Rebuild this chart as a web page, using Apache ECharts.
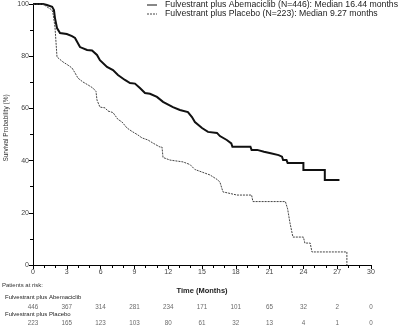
<!DOCTYPE html>
<html><head><meta charset="utf-8">
<script src="https://cdn.jsdelivr.net/npm/echarts@6/dist/echarts.min.js"></script>
<style>html,body{margin:0;padding:0;background:#fff}#c{width:413px;height:328px}</style>
</head><body><div id="c"></div>
<script>
var seriesNames = ['Fulvestrant plus Abemaciclib (N=446): Median 16.44 months', 'Fulvestrant plus Placebo (N=223): Median 9.27 months'];
var abemaCurve = [[0,100],[0.9,100],[1.24,99.6],[1.7,98.9],[1.86,97.7],[1.95,94.6],[2.13,90.8],[2.4,88.9],[3.0,88.5],[3.46,87.7],[3.73,87],[4.17,83.5],[4.8,82.4],[5.24,82.2],[5.68,80.5],[5.94,78.5],[6.57,75.9],[7.1,74.7],[7.54,72.8],[8.16,70.9],[8.61,69.7],[9.05,69.5],[9.49,67.8],[9.94,65.9],[10.38,65.6],[11.0,64.4],[11.54,62.5],[12.42,60.5],[13.04,59.4],[13.75,58.6],[14.11,56.7],[14.37,54.8],[15.0,52.5],[15.53,51],[16.33,50.6],[16.59,49.4],[17.2,47.9],[17.6,46.6],[17.7,45.3],[19.3,45.3],[19.4,44.1],[19.9,44.1],[20.0,43.4],[20.5,43.4],[20.6,42.8],[21.1,42.8],[21.2,42.1],[21.8,42.1],[21.9,41.5],[22.1,41.5],[22.2,40.2],[22.5,40.2],[22.6,39.1],[24.0,39.1],[24.0,36.4],[25.9,36.4],[25.9,32.6],[27.2,32.6]];
var placeboCurve = [[0,100],[0.9,100],[1.24,98.9],[1.69,97.7],[1.77,96.6],[1.95,91.2],[2.13,79.7],[2.22,79.3],[2.66,77.8],[3.1,76.6],[3.46,75.5],[3.73,73.6],[3.99,71.6],[4.44,70.1],[4.88,69],[5.32,67.8],[5.59,66.5],[5.68,63.2],[5.94,60.5],[6.4,60.2],[6.65,59],[7.1,58.4],[7.54,55.8],[7.9,54.8],[8.34,52.5],[8.78,51.2],[9.32,49.8],[9.67,48.7],[10.2,47.9],[10.65,46.7],[11.27,45.2],[11.45,45.2],[11.54,41.2],[12.16,40.2],[13.31,39.5],[13.93,38.5],[14.37,36.6],[15.0,35.6],[15.71,34.5],[16.33,32.8],[16.59,31.8],[16.75,31.8],[16.86,28],[17.3,27.6],[18.1,26.8],[19.4,26.8],[19.52,24.3],[22.4,24.3],[22.6,21.5],[22.8,16.3],[23.07,10.7],[24.0,10.7],[24.13,8.4],[24.6,8.4],[24.76,5],[27.86,5],[27.86,0]];
var riskMonths = [0,3,6,9,12,15,18,21,24,27,30];
var riskAbema = [446,367,314,281,234,171,101,65,32,2,0];
var riskPlacebo = [223,165,123,103,80,61,32,13,4,1,0];
var riskGroups = ['Fulvestrant plus Abemaciclib', 'Fulvestrant plus Placebo'];
var yAxisTitle = 'Survival Probability (%)';
var xAxisTitle = 'Time (Months)';
var riskTitle = 'Patients at risk:';

var FONT = 'Liberation Sans, Arial, sans-serif';
var chart = echarts.init(document.getElementById('c'), null, {renderer:'canvas'});
var riskData = [];
riskMonths.forEach(function(m,i){ riskData.push([m,1,riskAbema[i]]); riskData.push([m,0,riskPlacebo[i]]); });

chart.setOption({
  animation:false,
  backgroundColor:'#fff',
  grid:[{left:33,right:42,top:4,bottom:63,containLabel:false},
        {left:33,right:42,top:307,height:16,containLabel:false}],
  xAxis:[{type:'value',min:0,max:30,interval:3,gridIndex:0,
          axisLine:{lineStyle:{color:'#000',width:1}},
          axisTick:{length:4,lineStyle:{color:'#000'}},
          minorTick:{show:true,splitNumber:3,length:3,lineStyle:{color:'#000'}},
          splitLine:{show:false},
          axisLabel:{fontSize:7,color:'#444',fontFamily:FONT,margin:4},
          name:xAxisTitle,nameLocation:'middle',nameGap:22,
          nameTextStyle:{fontSize:7.5,fontWeight:'bold',color:'#222',fontFamily:FONT}},
         {type:'value',min:0,max:30,gridIndex:1,show:false}],
  yAxis:[{type:'value',min:0,max:100,interval:20,gridIndex:0,
          axisLine:{show:true,lineStyle:{color:'#000',width:1}},
          axisTick:{show:true,length:4,lineStyle:{color:'#000'}},
          minorTick:{show:true,splitNumber:2,length:3,lineStyle:{color:'#000'}},
          splitLine:{show:false},
          axisLabel:{fontSize:7,color:'#444',fontFamily:FONT,margin:4}},
         {type:'value',min:0,max:1,gridIndex:1,show:false}],
  series:[
    {name:seriesNames[0],type:'line',data:abemaCurve,showSymbol:false,
     lineStyle:{color:'#111',width:2,join:'miter'},xAxisIndex:0,yAxisIndex:0},
    {name:seriesNames[1],type:'line',data:placeboCurve,showSymbol:false,
     lineStyle:{color:'#444',width:1,type:[2,1]},xAxisIndex:0,yAxisIndex:0},
    {type:'scatter',xAxisIndex:1,yAxisIndex:1,data:riskData,symbolSize:1,
     itemStyle:{color:'rgba(0,0,0,0)'},
     label:{show:true,position:'inside',fontSize:6.3,color:'#444',fontFamily:FONT,
            formatter:function(p){return String(p.value[2]);}}}
  ],
  graphic:[
    {type:'line',shape:{x1:147,y1:5,x2:157,y2:5},style:{stroke:'#111',lineWidth:1}},
    {type:'line',shape:{x1:147,y1:14,x2:157,y2:14},style:{stroke:'#444',lineWidth:1,lineDash:[2,1]}},
    {type:'text',x:165,y:5,style:{text:seriesNames[0],font:'8.7px '+FONT,fill:'#222',textVerticalAlign:'middle'}},
    {type:'text',x:165,y:14,style:{text:seriesNames[1],font:'8.7px '+FONT,fill:'#222',textVerticalAlign:'middle'}},
    {type:'text',x:6,y:128,rotation:Math.PI/2,style:{text:yAxisTitle,font:'6.5px '+FONT,fill:'#333',textAlign:'center',textVerticalAlign:'middle'}},
    {type:'text',x:2,y:285,style:{text:riskTitle,font:'6px '+FONT,fill:'#333',textVerticalAlign:'middle'}},
    {type:'text',x:5,y:297.7,style:{text:riskGroups[0],font:'6px '+FONT,fill:'#222',textVerticalAlign:'middle'}},
    {type:'text',x:5,y:314,style:{text:riskGroups[1],font:'6px '+FONT,fill:'#222',textVerticalAlign:'middle'}}
  ]
});
</script></body></html>
